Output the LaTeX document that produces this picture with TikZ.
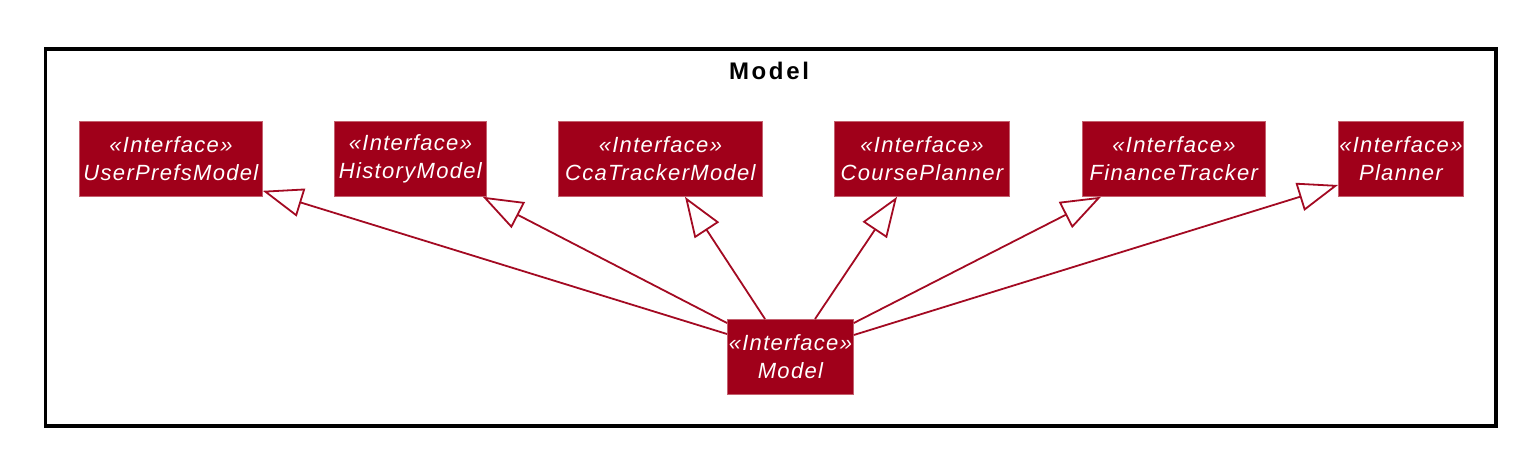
\documentclass[tikz,border=0pt]{standalone}
\usepackage{fontspec}
\setmainfont{Liberation Sans}
\newfontfamily\ifacefont[LetterSpace=6]{Liberation Sans}
\newfontfamily\titlefont[LetterSpace=11]{Liberation Sans}
\usetikzlibrary{arrows.meta,calc}
\definecolor{ifill}{HTML}{A0001A}
\definecolor{iline}{HTML}{A30A22}
\definecolor{iedge}{HTML}{C4606E}
\begin{document}
\begin{tikzpicture}[x=1pt,y=-1pt,
  iface/.style={draw=iedge,line width=0.8pt,fill=ifill,text=white,
    font=\ifacefont\fontsize{22}{28}\selectfont\itshape,align=center,
    inner sep=0pt,anchor=north west},
  ext/.style={draw=iline,line width=1.8pt,
    -{Triangle[open,length=40pt,width=29pt,line width=1.8pt]},shorten >=0pt}]
\useasboundingbox (0,0) rectangle (1516,448);
\draw[line width=3.5pt,black] (45.5,49) rectangle (1496,426);
\node[font=\titlefont\fontsize{24}{28}\selectfont\bfseries] (title) at (769,71) {Model};
\node[iface,minimum width=183pt,minimum height=75pt] (upm) at (79,121) {«Interface»\\UserPrefsModel};
\node[iface,minimum width=152pt,minimum height=75pt] (hm) at (334,121) {«Interface»\\HistoryModel};
\node[iface,minimum width=204pt,minimum height=75pt] (cca) at (558,121) {«Interface»\\CcaTrackerModel};
\node[iface,minimum width=175pt,minimum height=75pt] (cp) at (834,121) {«Interface»\\CoursePlanner};
\node[iface,minimum width=183pt,minimum height=75pt] (ft) at (1082,121) {«Interface»\\FinanceTracker};
\node[iface,minimum width=125pt,minimum height=75pt] (pl) at (1338,121) {«Interface»\\Planner};
\node[iface,minimum width=126pt,minimum height=75pt] (model) at (727,319) {«Interface»\\Model};
\draw[ext] ($(model.north west)+(0,15)$) -- ($(upm.south east)+(0,-6)$);
\draw[ext] ($(model.north west)+(0,4)$) -- ($(hm.south east)+(-4,0)$);
\draw[ext] ($(model.north west)+(38,0)$) -- ($(cca.south west)+(127,0)$);
\draw[ext] ($(model.north west)+(88,0)$) -- ($(cp.south west)+(63,0)$);
\draw[ext] ($(model.north east)+(0,4)$) -- ($(ft.south west)+(19,0)$);
\draw[ext] ($(model.north east)+(0,16)$) -- ($(pl.north west)+(0,64)$);
\end{tikzpicture}
\end{document}
